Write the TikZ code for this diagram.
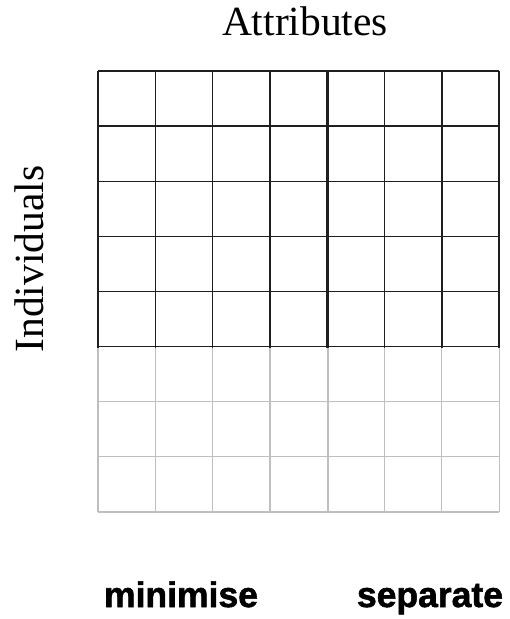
\documentclass[tikz,border=0pt]{standalone}
\usepackage{fontspec}
\setmainfont{Liberation Serif}
\newfontfamily\helv{Liberation Sans Bold}[FakeBold=1.6]
\begin{document}
\begin{tikzpicture}[x=1pt,y=-1pt]
    \tikzstyle{dark}=[draw=black!88,line width=1.5pt]
    \tikzstyle{light}=[draw=black!25,line width=1.2pt]
    \tikzstyle{axislabel}=[font=\fontsize{41.5}{48}\selectfont,inner sep=0pt]
    \tikzstyle{tag}=[font=\helv\fontsize{35.5}{42}\selectfont,inner sep=0pt,anchor=base]
    \useasboundingbox (0,0) rectangle (510,619);

    % light rows at the bottom
    \foreach \i in {0,...,7}
        \draw[light] (98+57.3*\i,347.6) -- (98+57.3*\i,512);
    \foreach \j in {6,7,8}
        \draw[light] (98,71+55.125*\j) -- (499,71+55.125*\j);
    \draw[light,line width=2.4pt] (328,347.6) -- (328,512);

    % dark rows at the top
    \foreach \i in {0,...,7}
        \draw[dark] (98+57.3*\i,71) -- (98+57.3*\i,347.6);
    \foreach \j in {0,...,5}
        \draw[dark] (98,71+55.125*\j) -- (499,71+55.125*\j);
    \draw[dark,line width=2.8pt] (328,71) -- (328,347.6);

    \node[axislabel,anchor=base] (title) at (305,35) {Attributes};
    \node[axislabel,anchor=base,rotate=90] (rowlabel) at (43,259) {Individuals};
    \node[tag] (minlabel) at (181,607) {minimise};
    \node[tag] (seplabel) at (430,607) {separate};
\end{tikzpicture}
\end{document}
